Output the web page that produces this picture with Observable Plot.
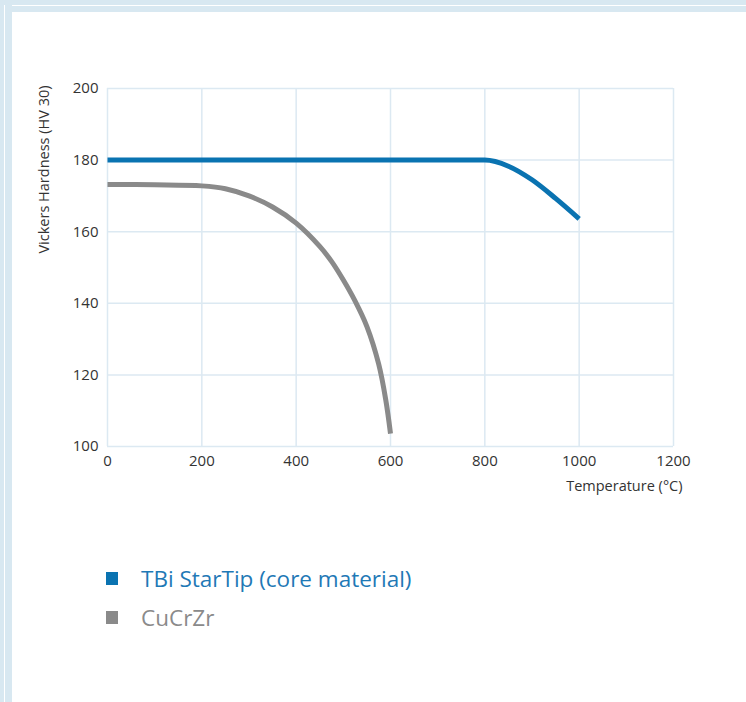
<!DOCTYPE html>
<html>
<head>
<meta charset="utf-8">
<script src="https://cdn.jsdelivr.net/npm/d3@7"></script>
<script src="https://cdn.jsdelivr.net/npm/@observablehq/plot@0.6"></script>
<style>
  html, body { margin: 0; padding: 0; background: #ffffff; }
  body { width: 746px; height: 702px; position: relative; overflow: hidden; font-family: "Open Sans", sans-serif; }
  .band-top { position: absolute; left: 0; top: 0; width: 746px; height: 12px; background: #d8e8f1; }
  .band-top .line { position: absolute; left: 4px; top: 5px; right: 0; height: 1px; background: #ffffff; }
  .band-left { position: absolute; left: 0; top: 0; width: 12px; height: 702px; background: #d8e8f1; }
  .band-left .line { position: absolute; left: 4px; top: 5px; bottom: 0; width: 1px; background: #ffffff; }
  #chart { position: absolute; left: 0; top: 0; }
  .legend { position: absolute; left: 106px; top: 565px; }
  .item { display: flex; align-items: center; height: 26px; margin-bottom: 13px; font-size: 22.5px; }
  .swatch { width: 12px; height: 13px; margin-right: 23px; }
</style>
</head>
<body>
<div class="band-top"><div class="line"></div></div>
<div class="band-left"><div class="line"></div></div>
<div id="chart"></div>
<div class="legend" id="legend"></div>
<script>
const seriesNames = ["TBi StarTip (core material)", "CuCrZr"];
const seriesColors = ["#0a73b1", "#8a8a8a"];
const textColors = ["#1f79b6", "#8a8a8a"];

const tbiTemp = [0, 200, 400, 600, 800, 850, 900, 950, 1000];
const tbiHard = [180, 180, 180, 180, 180, 178.3, 174.5, 169.3, 163.6];

const cuTemp = [0, 100, 200, 250, 300, 350, 400, 450, 475, 500, 525, 550, 575, 590, 600];
const cuHard = [173.2, 173.1, 172.8, 172.0, 170.0, 166.9, 162.4, 155.9, 151.7, 146.5, 140.6, 133.5, 123, 113, 103.6];

const xTicks = [0, 200, 400, 600, 800, 1000, 1200];
const yTicks = [100, 120, 140, 160, 180, 200];

const xLabel = "Temperature (°C)";
const yLabel = "Vickers Hardness (HV 30)";

const tbi = tbiTemp.map((t, i) => ({t, h: tbiHard[i], s: seriesNames[0]}));
const cu = cuTemp.map((t, i) => ({t, h: cuHard[i], s: seriesNames[1]}));

const gridColor = "#dce9f2";
const fmt = d => String(d);

const chart = Plot.plot({
  width: 746,
  height: 510,
  marginLeft: 107,
  marginTop: 88,
  marginRight: 73,
  marginBottom: 64,
  style: {fontFamily: "Open Sans, sans-serif", fontSize: "15px", color: "#333", background: "transparent"},
  x: {domain: [0, 1200]},
  y: {domain: [100, 200]},
  marks: [
    Plot.gridX(xTicks, {stroke: gridColor, strokeOpacity: 1, strokeWidth: 1.5}),
    Plot.gridY(yTicks, {stroke: gridColor, strokeOpacity: 1, strokeWidth: 1.5}),
    Plot.axisX(xTicks, {tickSize: 0, tickPadding: 9, label: null, tickFormat: fmt, fontSize: 15, fill: "#333"}),
    Plot.axisY(yTicks, {tickSize: 0, tickPadding: 9, label: null, tickFormat: fmt, fontSize: 15, fill: "#333"}),
    Plot.line(cu, {x: "t", y: "h", stroke: seriesColors[1], strokeWidth: 5, curve: "catmull-rom", strokeLinecap: "butt"}),
    Plot.line(tbi, {x: "t", y: "h", stroke: seriesColors[0], strokeWidth: 5, curve: "monotone-x", strokeLinecap: "butt"}),
    Plot.text([xLabel], {frameAnchor: "bottom-right", text: d => d, textAnchor: "end", dx: 9, dy: 44, fontSize: 14.5, fill: "#333"}),
    Plot.text([yLabel], {frameAnchor: "top-left", text: d => d, textAnchor: "end", rotate: -90, dx: -69, dy: -3, fontSize: 14.5, fill: "#333"})
  ]
});
document.getElementById("chart").appendChild(chart);

const legend = document.getElementById("legend");
seriesNames.forEach((name, i) => {
  const item = document.createElement("div");
  item.className = "item";
  const sw = document.createElement("div");
  sw.className = "swatch";
  sw.style.background = seriesColors[i];
  const label = document.createElement("span");
  label.textContent = name;
  label.style.color = textColors[i];
  item.appendChild(sw);
  item.appendChild(label);
  legend.appendChild(item);
});
</script>
</body>
</html>
